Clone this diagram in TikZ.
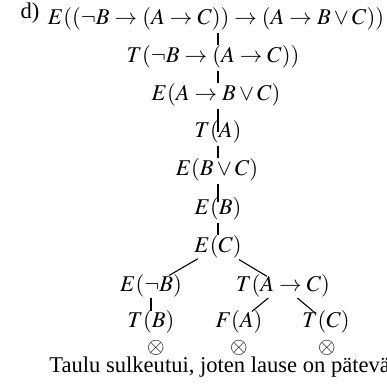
\documentclass[tikz,border=0pt]{standalone}
\usepackage{mathptmx}
\usepackage{fontspec}
\setmainfont{Liberation Serif}
\begin{document}
\begin{tikzpicture}[x=0.45pt, y=-0.45pt,
    fml/.style={inner sep=0pt, font=\fontsize{10.15}{12}\selectfont},
    ln/.style={line width=0.5pt, shorten <=6.5pt, shorten >=5.5pt},
]
    \useasboundingbox (0,0) rectangle (387,384);
    \coordinate (trunk) at (218,0);
    \node[fml] (lab) at (30,13) {d)};
    \node[fml] (n1) at (216,19)
        {$E((\neg B\rightarrow(A\rightarrow C))\rightarrow(A\rightarrow B\vee C))$};
    \node[fml] (n2) at (213,57) {$T(\neg B\rightarrow(A\rightarrow C))$};
    \node[fml] (n3) at (216,95) {$E(A\rightarrow B\vee C)$};
    \node[fml] (n4) at (218,132) {$T(A)$};
    \node[fml] (n5) at (217,170) {$E(B\vee C)$};
    \node[fml] (n6) at (218,209) {$E(B)$};
    \node[fml] (n7) at (218,247) {$E(C)$};
    \node[fml] (bl) at (151,286) {$E(\neg B)$};
    \node[fml] (bx) at (283,286) {$T(A\rightarrow C)$};
    \node[fml] (cl) at (151,322) {$T(B)$};
    \node[fml] (cm) at (239,322) {$F(A)$};
    \node[fml] (cr) at (326,322) {$T(C)$};
    \node[fml] (xl) at (156,348) {$\otimes$};
    \node[fml] (xm) at (239,348) {$\otimes$};
    \node[fml] (xr) at (327,348) {$\otimes$};
    \node[fml, anchor=west] (cap) at (49,367) {Taulu sulkeutui, joten lause on pätevä};
    % runko
    \draw[ln] (n1 -| trunk) -- (n2 -| trunk);
    \draw[ln] (n2 -| trunk) -- (n3 -| trunk);
    \draw[ln, shorten >=0pt] (n3 -| trunk) -- (n4 -| trunk);
    \draw[ln] (n4 -| trunk) -- (n5 -| trunk);
    \draw[ln, shorten >=3pt] (n5 -| trunk) -- (n6 -| trunk);
    \draw[ln] (n6 -| trunk) -- (n7 -| trunk);
    % haarat
    \draw[ln, shorten <=10.5pt, shorten >=9.5pt] (n7.center) -- (bl.center);
    \draw[ln, shorten <=11pt, shorten >=8.5pt] (n7.center) -- (bx.center);
    \draw[ln, shorten <=5.5pt, shorten >=5pt] (bl.center) -- (cl.center);
    \draw[ln, shorten <=8.5pt, shorten >=7.5pt] (bx.center) -- (cm.center);
    \draw[ln, shorten <=8.5pt, shorten >=6.5pt] (bx.center) -- (cr.center);
\end{tikzpicture}
\end{document}
